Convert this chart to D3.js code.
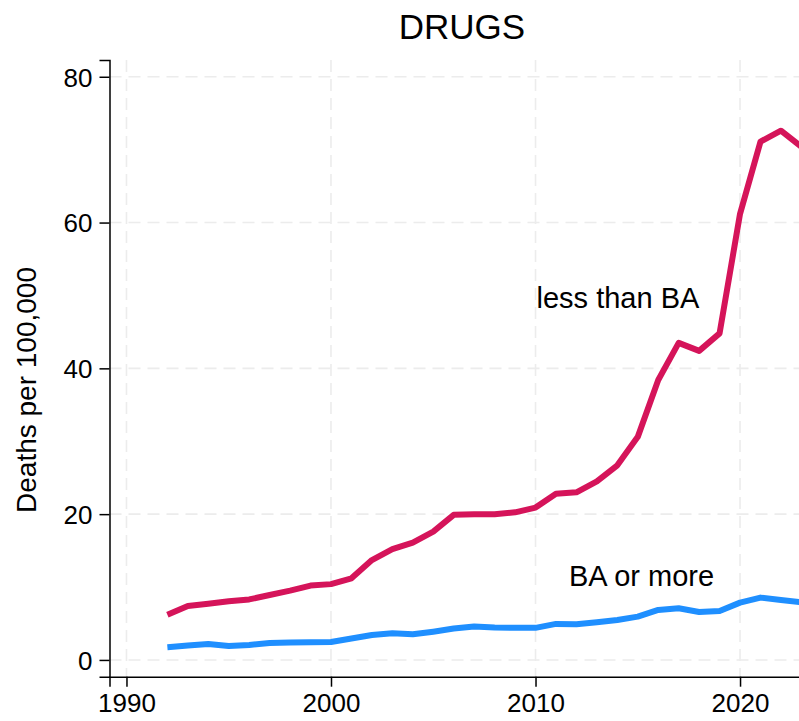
<!DOCTYPE html>
<html>
<head>
<meta charset="utf-8">
<script src="https://cdn.jsdelivr.net/npm/d3@7"></script>
<style>
  html, body { margin: 0; padding: 0; background: #fff; overflow: hidden; }
  svg { display: block; font-family: "Liberation Sans", Arial, Helvetica, sans-serif; }
</style>
</head>
<body>
<svg id="chart" width="799" height="721"></svg>
<script>
const years = [1992,1993,1994,1995,1996,1997,1998,1999,2000,2001,2002,2003,2004,2005,2006,2007,2008,2009,2010,2011,2012,2013,2014,2015,2016,2017,2018,2019,2020,2021,2022,2023];
const lessThanBA = [6.2,7.4,7.7,8.05,8.3,8.9,9.5,10.2,10.4,11.2,13.7,15.2,16.1,17.6,19.9,20.0,20.0,20.25,20.9,22.8,23.0,24.5,26.7,30.6,38.4,43.5,42.4,44.8,61.2,71.1,72.6,70.4];
const baOrMore = [1.74,1.97,2.19,1.92,2.06,2.33,2.38,2.43,2.47,2.93,3.43,3.66,3.52,3.88,4.3,4.6,4.45,4.4,4.4,4.94,4.9,5.17,5.49,5.94,6.86,7.09,6.58,6.72,7.86,8.55,8.23,7.9];
const xTicks = [1990, 2000, 2010, 2020];
const yTicks = [0, 20, 40, 60, 80];
const title = "DRUGS";
const yTitle = "Deaths per 100,000";
const seriesLabels = ["less than BA", "BA or more"];

const svg = d3.select("#chart");
const x = d3.scaleLinear().domain([1989.17, 2023.9]).range([109.5, 819.8]);
const y = d3.scaleLinear().domain([-2.3, 82.3]).range([676.7, 60]);

const grid = svg.append("g");
grid.selectAll("line.h").data(yTicks).enter().append("line")
  .attr("x1", x.range()[0]).attr("x2", x.range()[1])
  .attr("y1", d => y(d)).attr("y2", d => y(d))
  .attr("stroke", "#ececec").attr("stroke-width", 1.6).attr("stroke-dasharray", "12,7");
grid.selectAll("line.v").data(xTicks).enter().append("line")
  .attr("x1", d => x(d)).attr("x2", d => x(d))
  .attr("y1", y.range()[1]).attr("y2", y.range()[0])
  .attr("stroke", "#ececec").attr("stroke-width", 1.6).attr("stroke-dasharray", "12,7");

const xAxis = svg.append("g").attr("transform", `translate(0,${y.range()[0]})`)
  .call(d3.axisBottom(x).tickValues(xTicks).tickFormat(d3.format("d")).tickSizeOuter(0).tickSize(10).tickPadding(8));
const yAxis = svg.append("g").attr("transform", `translate(${x.range()[0]},0)`)
  .call(d3.axisLeft(y).tickValues(yTicks).tickSizeOuter(0).tickSize(10).tickPadding(7));
[xAxis, yAxis].forEach(a => {
  a.selectAll("path.domain").attr("stroke", "#000").attr("stroke-width", 1.5);
  a.selectAll(".tick line").attr("stroke", "#000").attr("stroke-width", 1.5);
  a.selectAll(".tick text").attr("fill", "#000").style("font-size", "26px")
    .style("font-family", '"Liberation Sans", Arial, sans-serif');
});
xAxis.selectAll(".tick text").attr("dy", "0.67em");
yAxis.selectAll(".tick text").attr("dy", "0.36em");

const line = d3.line().x((d, i) => x(years[i])).y(d => y(d));
svg.append("path").datum(lessThanBA).attr("d", line)
  .attr("fill", "none").attr("stroke", "#d5145a").attr("stroke-width", 6).attr("stroke-linejoin", "round");
svg.append("path").datum(baOrMore).attr("d", line)
  .attr("fill", "none").attr("stroke", "#1f8fff").attr("stroke-width", 6).attr("stroke-linejoin", "round");

svg.append("text").attr("x", 462).attr("y", 38.5).attr("text-anchor", "middle")
  .style("font-size", "35px").attr("fill", "#000").text(title);
svg.append("text").attr("transform", "translate(36,390) rotate(-90)").attr("text-anchor", "middle")
  .style("font-size", "28px").attr("fill", "#000").text(yTitle);
svg.append("text").attr("x", 536.5).attr("y", 308.3).style("font-size", "29px").attr("fill", "#000").text(seriesLabels[0]);
svg.append("text").attr("x", 569).attr("y", 586).style("font-size", "29px").attr("fill", "#000").text(seriesLabels[1]);
</script>
</body>
</html>
